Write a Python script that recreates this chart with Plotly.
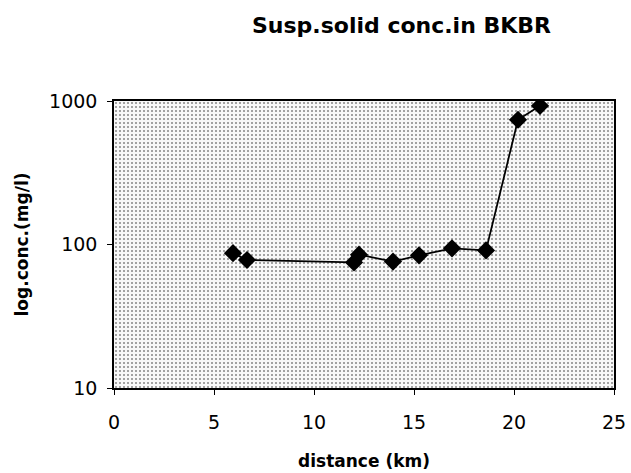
import plotly.graph_objects as go

# Suspended solids along the river (distance in km, concentration in mg/l)
distance_km = [5.95, 6.65, 12.0, 12.25, 13.95, 15.25, 16.9, 18.6, 20.2, 21.3]
conc_mg_l = [87, 78, 75, 85, 76, 84, 94, 91, 740, 925]

x_range = [0, 25]
y_range = [10, 1000]
x_ticks = [0, 5, 10, 15, 20, 25]
y_ticks = [10, 100, 1000]

tick_font = "DejaVu Sans, Arial, sans-serif"
bold_font = "DejaVu Sans, Arial, sans-serif"

# plot-area geometry in pixels
W, H = 631, 473
ML, MR, MT, MB = 114, 17, 101, 85

fig = go.Figure()

# dotted plot-area background
fig.add_trace(go.Scatter(
    x=[x_range[0], x_range[1], x_range[1], x_range[0], x_range[0]],
    y=[y_range[0], y_range[0], y_range[1], y_range[1], y_range[0]],
    mode="none",
    fill="toself",
    fillpattern=dict(shape=".", size=4, solidity=0.2,
                     fgcolor="#111111", bgcolor="#f8f8f8"),
    hoverinfo="skip",
    showlegend=False,
))

fig.add_trace(go.Scatter(
    x=distance_km,
    y=conc_mg_l,
    mode="lines+markers",
    line=dict(color="black", width=1.8),
    marker=dict(symbol="diamond", size=14, color="black"),
    showlegend=False,
))

plot_w = W - ML - MR
plot_h = H - MT - MB

fig.update_layout(
    width=W,
    height=H,
    margin=dict(l=ML, r=MR, t=MT, b=MB),
    paper_bgcolor="white",
    plot_bgcolor="white",
    font=dict(family=tick_font, color="black", size=19),
    annotations=[
        dict(text="<b>Susp.solid conc.in BKBR</b>",
             x=(401 - ML) / plot_w, y=1 + (MT - 26) / plot_h,
             xref="paper", yref="paper", xanchor="center", yanchor="middle",
             showarrow=False, font=dict(family=bold_font, size=22)),
    ],
)

fig.update_xaxes(
    range=x_range,
    tickvals=x_ticks,
    automargin=False,
    ticks="outside", ticklen=5, tickcolor="black",
    ticklabelstandoff=11,
    showline=True, linecolor="black", linewidth=1.5, mirror=True,
    showgrid=False, zeroline=False,
    tickfont=dict(size=19),
    title=dict(text="<b>distance (km)</b>",
               font=dict(family=bold_font, size=17), standoff=24),
)
fig.update_yaxes(
    type="log",
    range=[1, 3],
    tickvals=y_ticks,
    ticktext=[str(v) for v in y_ticks],
    automargin=False,
    ticks="outside", ticklen=5, tickcolor="black",
    ticklabelstandoff=6,
    showline=True, linecolor="black", linewidth=1.5, mirror=True,
    showgrid=False, zeroline=False,
    tickfont=dict(size=19),
    title=dict(text="<b>log.conc.(mg/l)</b>",
               font=dict(family=bold_font, size=17), standoff=16),
)

fig.write_html("out.html")
